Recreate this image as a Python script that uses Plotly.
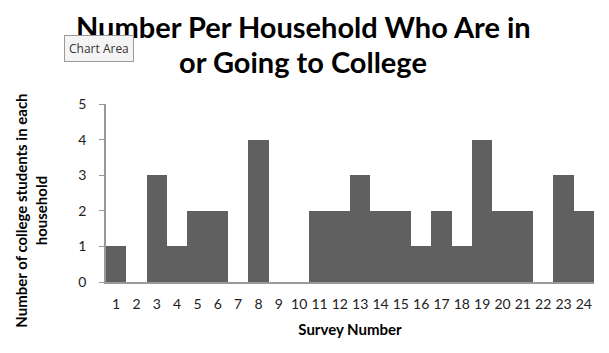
import plotly.graph_objects as go

surveys = [str(i) for i in range(1, 25)]
students = [1, 0, 3, 1, 2, 2, 0, 4, 0, 0, 2, 2, 3, 2, 2, 1, 2, 1, 4, 2, 2, 0, 3, 2]
y_ticks = [0, 1, 2, 3, 4, 5]
title_lines = ["Number Per Household Who Are in", "or Going to College"]

fig = go.Figure(go.Bar(x=surveys, y=students, marker=dict(color="#606060", line=dict(width=0))))

fig.update_layout(
    width=609, height=353,
    margin=dict(l=106, r=15, t=104, b=71),
    paper_bgcolor="white", plot_bgcolor="white",
    bargap=0,
    showlegend=False,
    font=dict(family="Lato", color="#222222"),
)
fig.update_xaxes(type="category", showline=True, linecolor="#999999", linewidth=1.5,
                 ticks="", tickfont=dict(size=14, color="#222222"), ticklabelstandoff=8,
                 title=dict(text="<b>Survey Number</b>", font=dict(size=15, color="black"), standoff=14))
fig.update_yaxes(range=[0, 5], tickvals=y_ticks, showline=True, linecolor="#999999", linewidth=1.5,
                 ticks="outside", ticklen=5, tickcolor="#999999", showgrid=False, zeroline=False,
                 tickfont=dict(size=14, color="#222222"), ticklabelstandoff=10)

fig.add_annotation(text="<b>Number of college students in each<br>household</b>",
                   xref="paper", yref="paper", x=-0.154, y=0.40, textangle=-90,
                   xanchor="center", yanchor="middle", showarrow=False,
                   font=dict(family="Lato", size=15, color="black"))

for line, yp in zip(title_lines, [1.436, 1.236]):
    fig.add_annotation(text="<b>" + line + "</b>", xref="paper", yref="paper", x=0.404, y=yp,
                       xanchor="center", yanchor="middle", showarrow=False,
                       font=dict(family="Lato", size=29, color="black"))

fig.add_annotation(text="Chart Area", xref="paper", yref="paper", x=-0.014, y=1.309,
                   xanchor="center", yanchor="middle", showarrow=False,
                   font=dict(family="Open Sans", size=12, color="#333333"),
                   bgcolor="#f4f4f4", bordercolor="#9a9a9a", borderwidth=1, borderpad=4)

fig.write_html("out.html")
